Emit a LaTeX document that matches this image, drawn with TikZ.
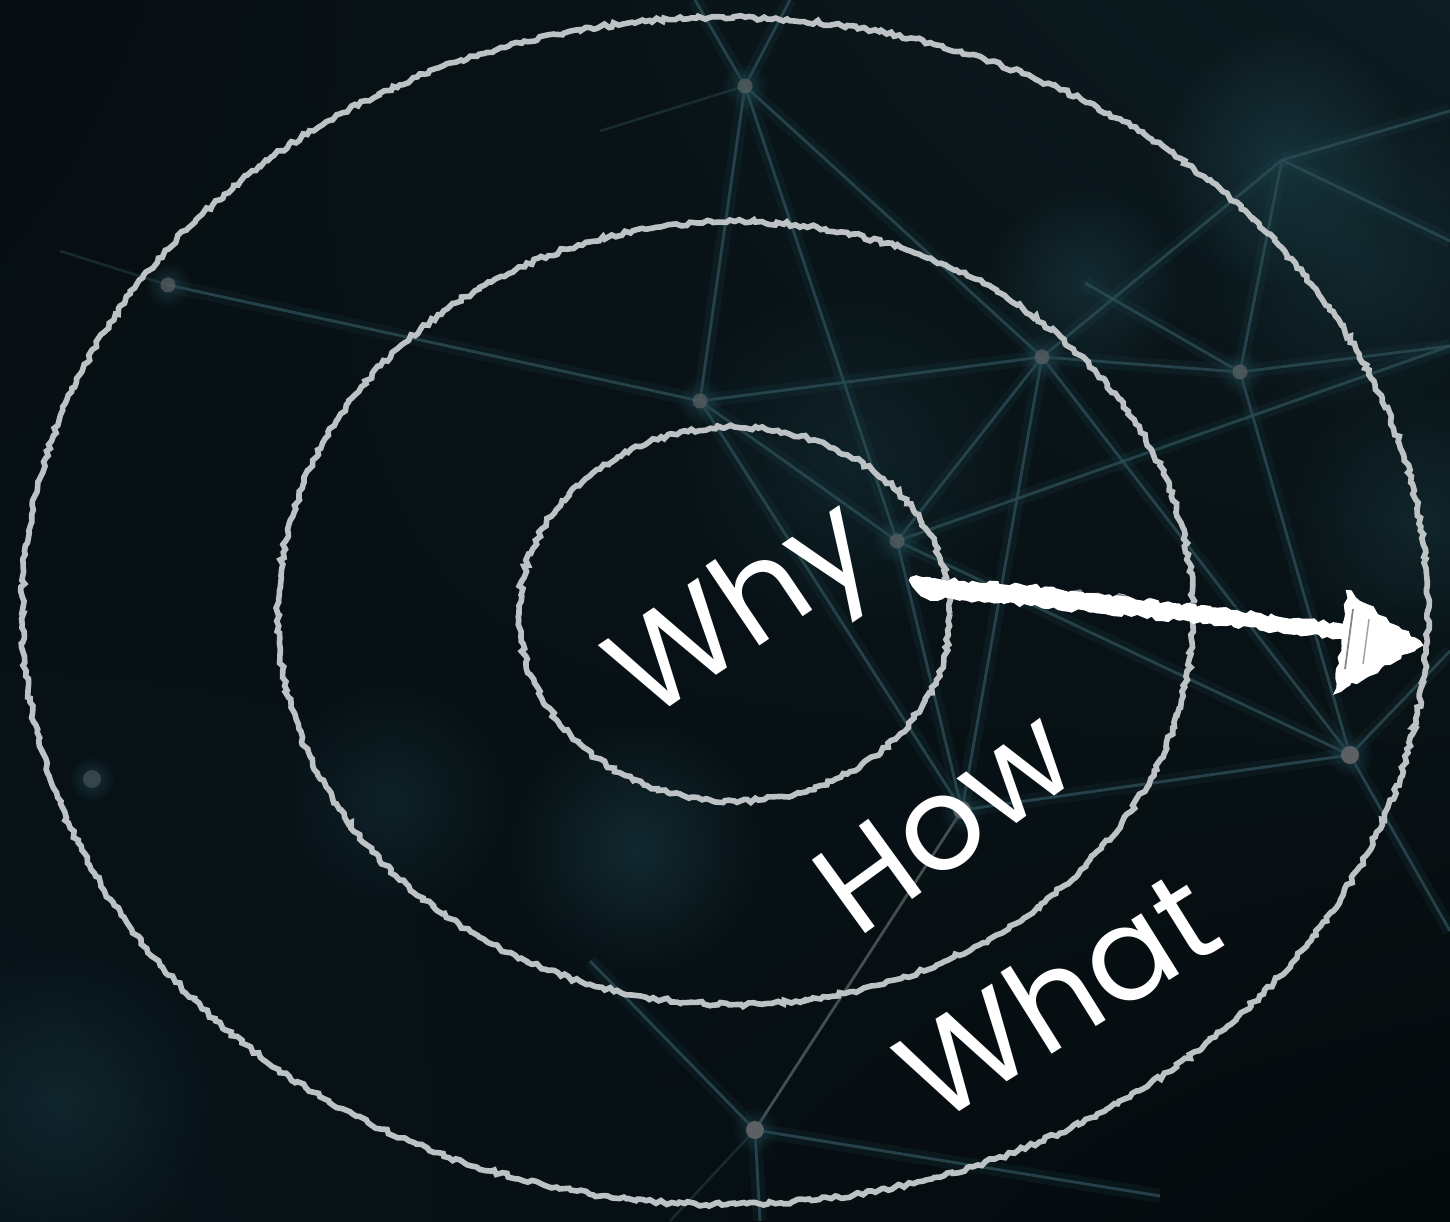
\documentclass[tikz,border=0pt]{standalone}
\usepackage{fontspec}
\setmainfont{Poppins}
\usetikzlibrary{decorations.pathmorphing,fadings,calc,shadings}
\definecolor{bgUL}{HTML}{060D10}
\definecolor{bgUR}{HTML}{0D1C21}
\definecolor{bgLL}{HTML}{08141A}
\definecolor{bgLR}{HTML}{04090B}
\definecolor{chalkc}{HTML}{BDC2C4}
\definecolor{netc}{HTML}{2C4C54}
\definecolor{netl}{HTML}{4E5A5C}
\definecolor{dotc}{HTML}{5C6062}
\definecolor{glowc}{HTML}{1F4650}
\tikzfading[name=softglow, inner color=transparent!0, outer color=transparent!100]
\tikzset{
  net/.style={draw=netc, line width=0.8pt, opacity=0.8,
    preaction={draw=glowc, line width=4pt, opacity=0.18}},
  netfaint/.style={draw=netc, line width=0.7pt, opacity=0.45},
  netlight/.style={draw=netl, line width=0.8pt, opacity=0.85},
  netdot/.style={fill=dotc},
  glow/.style={fill=glowc, path fading=softglow},
  chalk/.style={draw=chalkc, line width=1.6pt, decorate,
    decoration={random steps, segment length=1.2pt, amplitude=0.6pt}},
  lbl/.style={text=white, font=\fontsize{37}{40}\selectfont, inner sep=0pt, anchor=base},
  chalkfill/.style={fill=white, draw=white, line width=0.6pt, decorate,
    decoration={random steps, segment length=1.5pt, amplitude=0.7pt}}
}
\begin{document}
\begin{tikzpicture}[x=1cm,y=1cm]
\useasboundingbox (0,0) rectangle (14.5,12.21);
\shade[upper left=bgUL, upper right=bgUR, lower left=bgLL, lower right=bgLR] (0,0) rectangle (14.5,12.21);

% soft background glows
\fill[glow, opacity=0.55] (12.82,10.61) circle (1.3);
\fill[glow, opacity=0.45] (10.85,9.38) circle (1.0);
\fill[glow, opacity=0.45] (6.38,3.72) circle (1.3);
\fill[glow, opacity=0.35] (0.6,1.2) circle (1.6);
\fill[glow, opacity=0.35] (14.2,7.0) circle (1.4);
\fill[glow, opacity=0.30] (8.5,7.6) circle (1.8);
\fill[glow, opacity=0.30] (3.9,4.2) circle (1.2);
\fill[glow, opacity=0.35] (13.6,9.6) circle (1.6);

% network points
\coordinate (n1) at (7.45,11.35);
\coordinate (n2) at (1.68,9.36);
\coordinate (n3) at (7.00,8.20);
\coordinate (n4) at (10.42,8.64);
\coordinate (n5) at (12.40,8.49);
\coordinate (n6) at (8.97,6.80);
\coordinate (n7) at (13.50,4.66);
\coordinate (n8) at (9.62,4.11);
\coordinate (n9) at (7.55,0.91);
\coordinate (n10) at (0.92,4.42);
\coordinate (g1) at (12.82,10.61);
\coordinate (g2) at (10.85,9.38);
\coordinate (e1) at (7.90,12.21);
\coordinate (e2) at (6.95,12.21);
\coordinate (e3) at (14.5,8.75);
\coordinate (e4) at (14.5,5.70);
\coordinate (e5) at (14.5,2.90);
\coordinate (e6) at (14.5,11.10);
\coordinate (e7) at (11.60,0.25);
\coordinate (e8) at (7.60,0);
\coordinate (e9) at (5.90,2.60);
\coordinate (e10) at (0.6,9.70);
\coordinate (e11) at (14.5,9.80);
\coordinate (e12) at (6.00,10.90);
\coordinate (e14) at (6.70,0);

\draw[net] (n1) -- (n3);
\draw[net] (n1) -- (n4);
\draw[net] (n1) -- (n6);
\draw[net] (n1) -- (e1);
\draw[net] (n1) -- (e2);
\draw[netfaint] (n1) -- (e12);
\draw[net] (n2) -- (n3);
\draw[netfaint] (n2) -- (e10);
\draw[net] (n3) -- (n4);
\draw[net] (n3) -- (n6);
\draw[net] (n3) -- (n8);
\draw[net] (n4) -- (n5);
\draw[net] (n4) -- (g1);
\draw[net] (n4) -- (n6);
\draw[net] (n4) -- (n8);
\draw[net] (n4) -- (n7);
\draw[net] (g2) -- (n5);
\draw[net] (n5) -- (e3);
\draw[net] (n5) -- (n7);
\draw[net] (n5) -- (g1);
\draw[net] (g1) -- (e6);
\draw[net] (g1) -- (e11);
\draw[net] (n6) -- (n8);
\draw[net] (n6) -- (n7);
\draw[net] (n7) -- (n8);
\draw[net] (n7) -- (e4);
\draw[net] (n7) -- (e5);
\draw[netlight] (n8) -- (n9);
\draw[net] (n9) -- (e9);
\draw[net] (n9) -- (e7);
\draw[net] (n9) -- (e8);
\draw[netfaint] (n9) -- (e14);
\draw[net] (n6) -- (e3);

% points with halo
\foreach \p in {n1,n2,n3,n4,n5,n6,n7,n8,n9,n10}{
  \fill[glow, opacity=0.6] (\p) circle (0.24);
}
\foreach \p in {n1,n2,n3,n4,n5,n6}{
  \fill[netdot, opacity=0.7] (\p) circle (0.075);
}
\foreach \p in {n7,n8,n9}{
  \fill[netdot] (\p) circle (0.09);
}
\fill[netdot, opacity=0.5] (n10) circle (0.09);

% concentric chalk ellipses
\draw[chalk] (7.25,6.10) ellipse [x radius=7.03, y radius=5.935];
\draw[chalk] (7.355,6.08) ellipse [x radius=4.575, y radius=3.915];
\draw[chalk] (7.345,6.07) ellipse [x radius=2.155, y radius=1.87];

% labels
\node[lbl, rotate=34] (why) at (7.64,5.78) {Why};
\node[lbl, rotate=36] (how) at (9.71,3.64) {How};
\node[lbl, rotate=32] (what) at (10.82,1.86) {What};

% chalk arrow
\coordinate (arrtail) at (9.11,6.43);
\coordinate (arrneck) at (13.45,5.90);
\coordinate (arrtip) at (14.22,5.76);
\fill[chalkfill] (arrtail) -- ($(arrtail)+(1.2,-0.08)$)
   -- ($(arrneck)+(0,0.06)$) -- ($(arrneck)+(0,-0.07)$)
   -- ($(arrtail)+(1.2,-0.27)$) -- ($(arrtail)+(0.14,-0.19)$) -- ($(arrtail)+(0.02,-0.08)$) -- cycle;
\fill[chalkfill] ($(arrneck)+(0.02,0.40)$) -- (arrtip) -- ($(arrneck)+(-0.10,-0.62)$) -- cycle;
\draw[bgUL, line width=0.5pt, opacity=0.5] ($(arrneck)+(0.08,0.22)$) -- ($(arrneck)+(0.0,-0.38)$);
\draw[bgUL, line width=0.4pt, opacity=0.4] ($(arrneck)+(0.24,0.12)$) -- ($(arrneck)+(0.18,-0.33)$);
\draw[bgUL, line width=0.4pt, opacity=0.5] ($(arrtail)+(1.6,-0.12)$) -- ($(arrtail)+(2.4,-0.20)$);
\draw[bgUL, line width=0.3pt, opacity=0.5] ($(arrtail)+(2.8,-0.25)$) -- ($(arrtail)+(3.9,-0.37)$);
\end{tikzpicture}
\end{document}
